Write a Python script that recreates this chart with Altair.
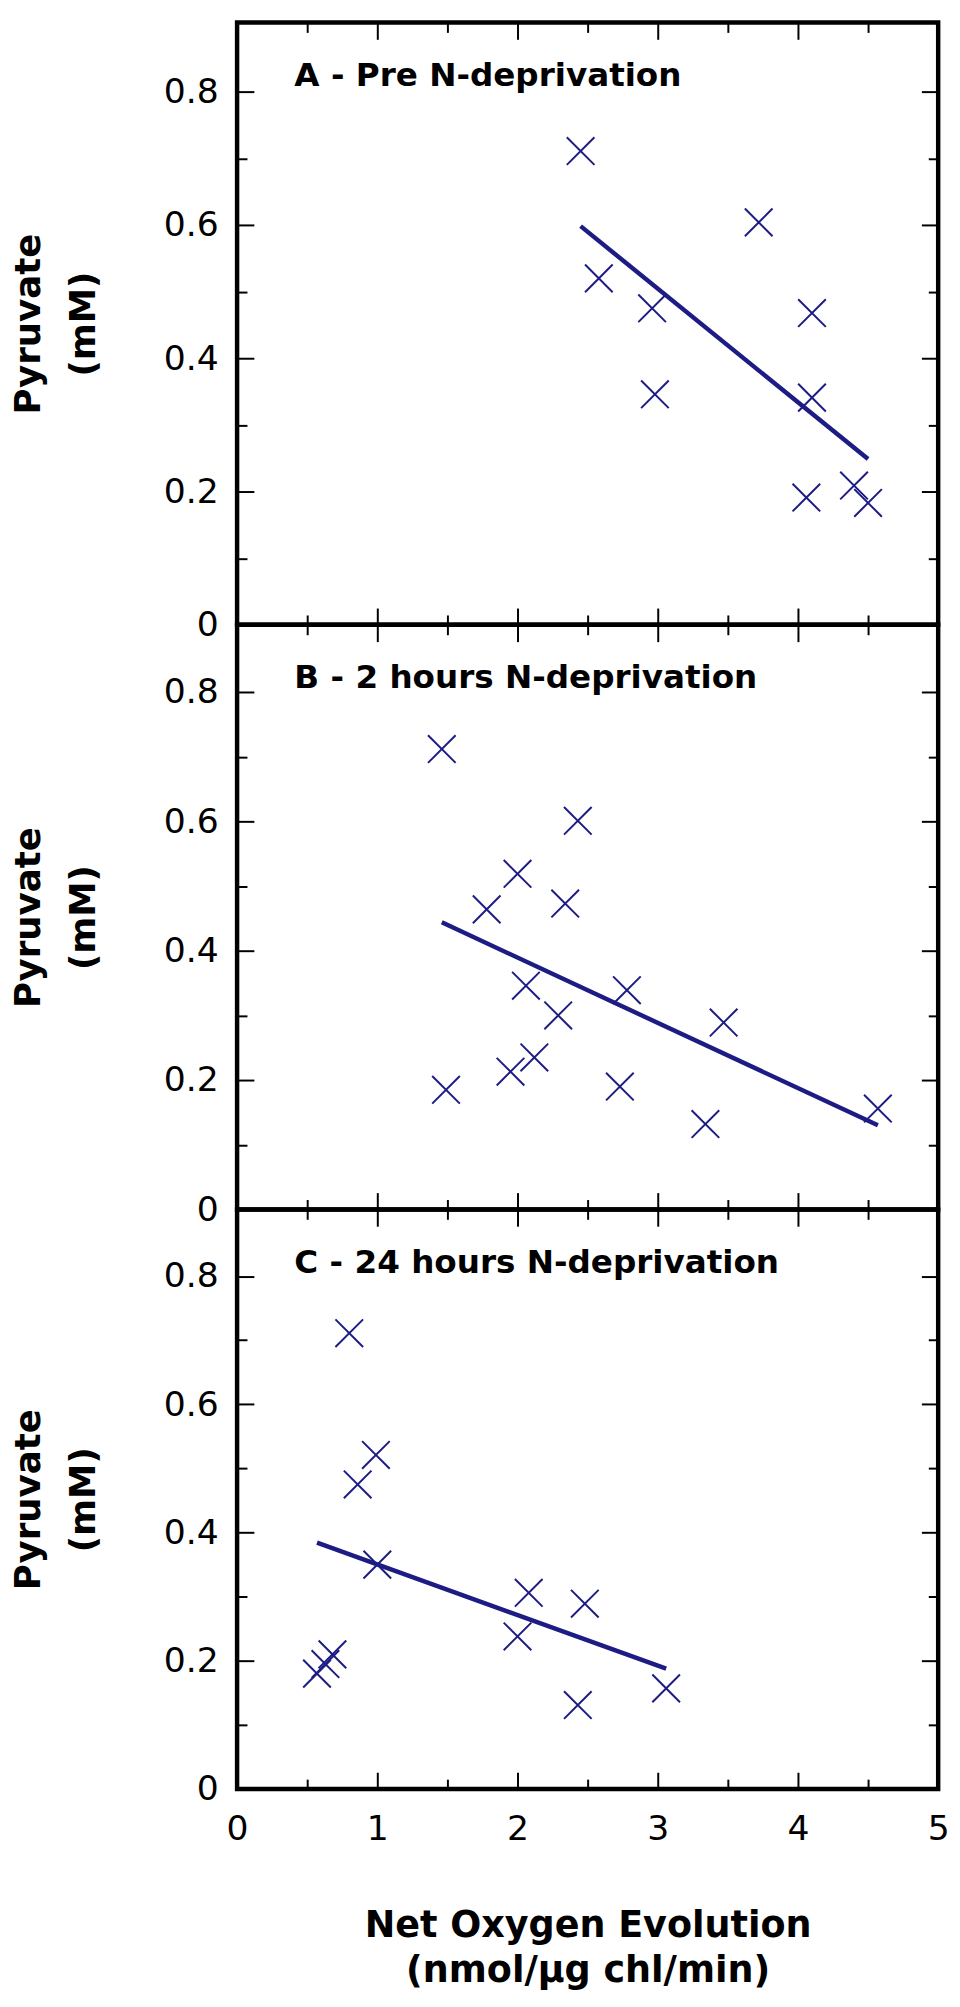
import altair as alt
import pandas as pd

# ---- data -------------------------------------------------------------
# Panel A - Pre N-deprivation
a_oxygen = [2.45, 2.58, 2.96, 2.98, 3.72, 4.10, 4.10, 4.06, 4.40, 4.50]
a_pyruvate = [0.711, 0.520, 0.475, 0.346, 0.604, 0.468, 0.341, 0.191, 0.209, 0.183]

# Panel B - 2 hours N-deprivation
b_oxygen = [1.46, 2.43, 2.00, 1.78, 2.34, 2.06, 2.29, 2.12, 1.95, 1.49,
            2.78, 2.73, 3.47, 3.34, 4.57]
b_pyruvate = [0.712, 0.601, 0.519, 0.464, 0.473, 0.346, 0.300, 0.235, 0.213, 0.185,
              0.339, 0.190, 0.289, 0.132, 0.156]

# Panel C - 24 hours N-deprivation
c_oxygen = [0.80, 0.99, 0.86, 1.00, 2.08, 2.48, 2.00, 2.43, 3.06, 0.57, 0.63, 0.68]
c_pyruvate = [0.711, 0.521, 0.475, 0.350, 0.306, 0.289, 0.238, 0.131, 0.157,
              0.180, 0.195, 0.210]

panel_labels = ["A - Pre N-deprivation",
                "B - 2 hours N-deprivation",
                "C - 24 hours N-deprivation"]

x_major = [0, 1, 2, 3, 4, 5]
x_minor = [0.5, 1.5, 2.5, 3.5, 4.5]
y_major = [0, 0.2, 0.4, 0.6, 0.8]
y_minor = [0.1, 0.3, 0.5, 0.7]
y_title = ["Pyruvate", "(mM)"]
x_title = ["Net Oxygen Evolution", "(nmol/µg chl/min)"]

# ---- styling ----------------------------------------------------------
NAVY = "#1c1c84"
FONT = "DejaVu Sans"
XSHAPE = "M-1,-1L1,1M1,-1L-1,1"
PLOT_W = 710
Y_MAX = 0.904
MAJ = 17
MIN = 10


def tick_axis(orient, values, size):
    return alt.Axis(orient=orient, values=values, offset=-size, tickSize=size,
                    tickWidth=2, tickColor="black", domain=False, grid=False,
                    labels=False, title=None)


def panel(xs, ys, label, height, bottom):
    df = pd.DataFrame({"oxygen": xs, "pyruvate": ys})
    xsc = alt.Scale(domain=[0, 5], nice=False, zero=False)
    ysc = alt.Scale(domain=[0, Y_MAX], nice=False, zero=False)
    base = alt.Chart(df)

    if bottom:
        x_axis_main = alt.Axis(
            orient="bottom", values=x_major, offset=-MAJ, tickSize=MAJ,
            tickWidth=2, tickColor="black", domain=False, grid=False,
            labels=True, labelFont=FONT, labelFontSize=35, labelColor="black",
            labelPadding=23, labelFlush=False, format="d",
            title=x_title, titleFont=FONT, titleFontSize=37,
            titleFontWeight="bold", titleColor="black", titleLineHeight=46,
            titleBaseline="alphabetic", titleAlign="center",
            titleX=PLOT_W / 2, titleY=166)
    else:
        x_axis_main = tick_axis("bottom", x_major, MAJ)

    y_axis_main = alt.Axis(
        orient="left", values=y_major, offset=-MAJ, tickSize=MAJ,
        tickWidth=2, tickColor="black", domain=False, grid=False,
        labels=True, labelFont=FONT, labelFontSize=35, labelColor="black",
        labelPadding=19, format="~g",
        title=y_title, titleFont=FONT, titleFontSize=36,
        titleFontWeight="bold", titleColor="black", titleLineHeight=56,
        titleAngle=270, titleBaseline="alphabetic", titleAlign="center",
        titleX=-217, titleY=height / 2)

    pts = base.mark_point(shape=XSHAPE, size=784, filled=False,
                          strokeWidth=2, color=NAVY, opacity=1).encode(
        x=alt.X("oxygen:Q", scale=xsc, axis=x_axis_main),
        y=alt.Y("pyruvate:Q", scale=ysc, axis=y_axis_main),
    )

    fit = base.transform_regression("oxygen", "pyruvate").mark_line(
        color=NAVY, strokeWidth=4.5).encode(
        x=alt.X("oxygen:Q", scale=xsc, axis=tick_axis("top", x_major, MAJ)),
        y=alt.Y("pyruvate:Q", scale=ysc, axis=tick_axis("right", y_major, MAJ)),
    )

    minor1 = base.mark_point(opacity=0).encode(
        x=alt.X("oxygen:Q", scale=xsc, axis=tick_axis("bottom", x_minor, MIN)),
        y=alt.Y("pyruvate:Q", scale=ysc, axis=tick_axis("left", y_minor, MIN)),
    )
    minor2 = base.mark_point(opacity=0).encode(
        x=alt.X("oxygen:Q", scale=xsc, axis=tick_axis("top", x_minor, MIN)),
        y=alt.Y("pyruvate:Q", scale=ysc, axis=tick_axis("right", y_minor, MIN)),
    )

    txt = alt.Chart(pd.DataFrame({"label": [label]})).mark_text(
        font=FONT, fontSize=33, fontWeight="bold", align="left",
        baseline="alphabetic", color="black").encode(
        x=alt.value(58), y=alt.value(64), text="label:N")

    return alt.layer(pts, fit, minor1, minor2, txt).resolve_axis(
        x="independent", y="independent").properties(width=PLOT_W, height=height)


pA = panel(a_oxygen, a_pyruvate, panel_labels[0], 610, False)
pB = panel(b_oxygen, b_pyruvate, panel_labels[1], 592, False)
pC = panel(c_oxygen, c_pyruvate, panel_labels[2], 587, True)

chart = alt.vconcat(pA, pB, pC, spacing=0, bounds="flush").configure_view(
    stroke="black", strokeWidth=4.5).properties(
    padding={"left": 0, "top": -2, "right": 0, "bottom": 0},
    background="white")

chart.save("out.html", embed_options={"renderer": "svg", "actions": False})
